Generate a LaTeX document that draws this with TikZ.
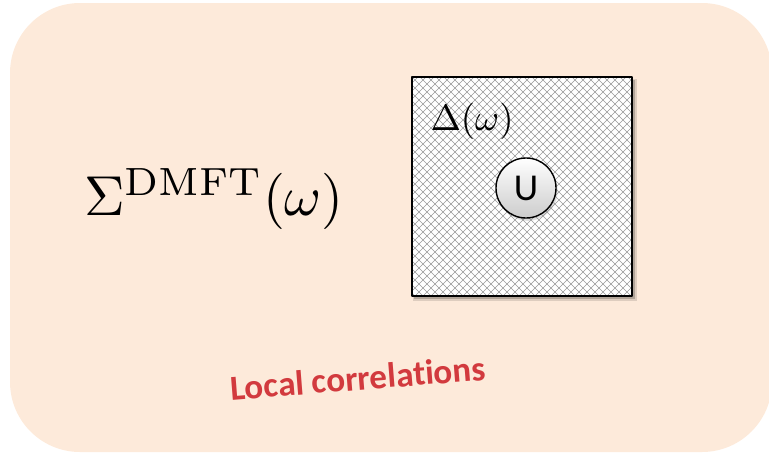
\documentclass[tikz,border=0pt]{standalone}
\usepackage{fontspec}
\newfontfamily\calibri[Ligatures=NoCommon]{Carlito}
\usetikzlibrary{shadows}
\definecolor{peach}{RGB}{253,234,218}
\definecolor{corrred}{RGB}{210,58,62}
\begin{document}
\begin{tikzpicture}[x=0.025cm, y=-0.025cm, line join=round, line cap=round,
		hatch/.style={black!40, line width=0.45pt},
		imp/.style={circle, draw=black, line width=1pt, minimum size=1.5cm, inner sep=0pt, top color=white, bottom color=gray!40, drop shadow={opacity=0.25, shadow xshift=0.4mm, shadow yshift=-0.7mm}}]
				\useasboundingbox (0,0) rectangle (769,454);
				\coordinate (P) at (10,3);
				\coordinate (Q) at (772,452);
				\coordinate (A) at (412,77);
				\coordinate (B) at (632,296);
				
				% fond
				\fill[peach, rounded corners=1.75cm] (P) rectangle (Q);
				
				% boite hachuree
				\fill[black, opacity=0.12] (413,79) rectangle (637,301);
				\fill[black, opacity=0.2] (414,80) rectangle (635,299);
				\fill[white] (A) rectangle (B);
				\begin{scope}
					\clip (A) rectangle (B);
					\foreach \i in {180,188,...,640}{
						\draw[hatch] (\i,77) -- ++(230,230);
						\draw[hatch] (\i+230,77) -- ++(-230,230);
					}
				\end{scope}
				\draw[line width=1.3pt] (A) rectangle (B);
				
				\node[scale=4] (sigma) at (214,199) {$\Sigma^{\mathrm{DMFT}}(\omega)$};
				\node[scale=2.6] (delta) at (472,121) {$\Delta(\omega)$};
				\node[imp] (U) at (526,188) {\calibri\fontsize{27}{32}\selectfont U};
				\node[text=corrred, rotate=4.5] (local) at (358,378) {\calibri\bfseries\fontsize{25}{30}\selectfont Local correlations};
			\end{tikzpicture}
\end{document}
